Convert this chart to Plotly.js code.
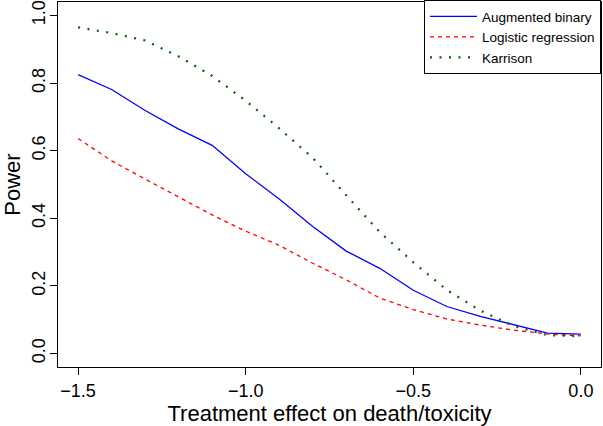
<!DOCTYPE html>
<html>
<head>
<meta charset="utf-8">
<script src="https://cdn.plot.ly/plotly-3.0.1.min.js"></script>
<style>html,body{margin:0;padding:0;background:#fff;}#chart{width:603px;height:426px;}</style>
</head>
<body>
<div id="chart"></div>
<script>
// Treatment effect on death/toxicity (x) and power of each method (y)
var effect = [-1.5, -1.4, -1.3, -1.2, -1.1, -1.0, -0.9, -0.8, -0.7, -0.6, -0.5, -0.4, -0.3, -0.2, -0.1, 0.0];
var augmentedBinary = [0.825, 0.781, 0.719, 0.664, 0.616, 0.532, 0.457, 0.376, 0.303, 0.252, 0.187, 0.139, 0.110, 0.084, 0.060, 0.057];
var logisticRegression = [0.636, 0.570, 0.516, 0.462, 0.410, 0.362, 0.320, 0.267, 0.218, 0.164, 0.130, 0.102, 0.084, 0.069, 0.058, 0.052];
var karrison = [0.965, 0.948, 0.926, 0.879, 0.821, 0.748, 0.666, 0.579, 0.468, 0.359, 0.270, 0.188, 0.127, 0.081, 0.054, 0.051];
var seriesNames = ["Augmented binary", "Logistic regression", "Karrison"];
var xTicks = [-1.5, -1.0, -0.5, 0.0];
var xTickText = ["\u22121.5", "\u22121.0", "\u22120.5", "0.0"];
var yTicks = [0.0, 0.2, 0.4, 0.6, 0.8, 1.0];
var yTickText = ["0.0", "0.2", "0.4", "0.6", "0.8", "1.0"];

var font = "Liberation Sans, Arial, Helvetica, sans-serif";

var traces = [
  {x: effect, y: augmentedBinary, name: seriesNames[0], type: "scatter", mode: "lines",
   line: {color: "#0000ff", width: 1.3}},
  {x: effect, y: logisticRegression, name: seriesNames[1], type: "scatter", mode: "lines",
   line: {color: "#ff0000", width: 1.3, dash: "4px,4px"}},
  {x: effect, y: karrison, name: seriesNames[2], type: "scatter", mode: "lines",
   line: {color: "#006400", width: 2.2, dash: "2px,7.5px"}}
];

var layout = {
  width: 603, height: 426,
  margin: {l: 58, r: 2, t: 1, b: 59, pad: 0},
  paper_bgcolor: "#ffffff", plot_bgcolor: "#ffffff",
  font: {family: font, color: "#000000", size: 18},
  showlegend: true,
  legend: {
    x: 1, xanchor: "right", y: 1.004, yanchor: "top",
    bgcolor: "#ffffff", bordercolor: "#000000", borderwidth: 1,
    font: {family: font, size: 13.5, color: "#000000"},
    itemwidth: 47,
    tracegroupgap: 0
  },
  xaxis: {
    range: [-1.56, 0.06], tickmode: "array", tickvals: xTicks, ticktext: xTickText,
    ticks: "outside", ticklen: 7, tickwidth: 1, tickcolor: "#000000",
    showline: true, mirror: true, linecolor: "#000000", linewidth: 1,
    showgrid: false, zeroline: false, ticklabeloverflow: "allow",
    automargin: "bottom",
    tickfont: {family: font, size: 18, color: "#000000"},
    title: {text: "Treatment effect on death/toxicity", font: {family: font, size: 22, color: "#000000"}, standoff: 4}
  },
  yaxis: {
    range: [-0.04, 1.04], tickmode: "array", tickvals: yTicks, ticktext: yTickText,
    ticks: "outside", ticklen: 7, tickwidth: 1, tickcolor: "#000000", tickangle: -90,
    showline: true, mirror: true, linecolor: "#000000", linewidth: 1,
    showgrid: false, zeroline: false, ticklabeloverflow: "allow",
    ticklabelstandoff: -2, automargin: "left",
    tickfont: {family: font, size: 18, color: "#000000"},
    title: {text: "Power", font: {family: font, size: 22, color: "#000000"}, standoff: 8}
  }
};

Plotly.newPlot("chart", traces, layout, {displayModeBar: false, staticPlot: true});
</script>
</body>
</html>
